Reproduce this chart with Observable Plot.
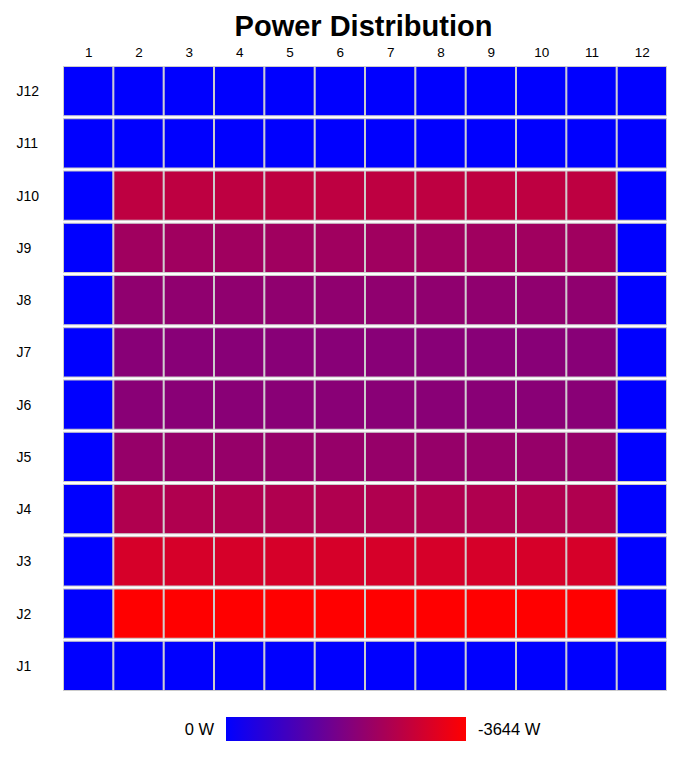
<!DOCTYPE html>
<html>
<head>
<meta charset="utf-8">
<script src="https://cdn.jsdelivr.net/npm/d3@7"></script>
<script src="https://cdn.jsdelivr.net/npm/@observablehq/plot@0.6"></script>
<style>
  body { margin: 0; background: #fff; font-family: "Liberation Sans", Arial, sans-serif; }
  #wrap { width: 691px; position: relative; }
  #title { height: 36px; padding-top: 8px; padding-left: 36px; font-size: 29px; font-weight: bold; line-height: 36px; text-align: center; color: #000; }
  #legend { position: relative; height: 24px; margin-top: 20px; font-size: 16.5px; line-height: 24px; color: #000; }
  #legend .lo { position: absolute; right: 477px; top: 0; }
  #legend .bar { position: absolute; left: 226px; width: 240px; top: 0; height: 24px; }
  #legend .hi { position: absolute; left: 478px; top: 0; }
</style>
</head>
<body>
<div id="wrap">
  <div id="title">Power Distribution</div>
  <div id="chart"></div>
  <div id="legend"><span class="lo"></span><div class="bar"></div><span class="hi"></span></div>
</div>
<script>
const rowLabels = ["J1","J2","J3","J4","J5","J6","J7","J8","J9","J10","J11","J12"];
const colLabels = [1,2,3,4,5,6,7,8,9,10,11,12];
const minPower = -3644;
const maxPower = 0;
const unit = "W";

// Power (W) per row, columns 1..12
const rowJ1  = [0, 0, 0, 0, 0, 0, 0, 0, 0, 0, 0, 0];
const rowJ2  = [0, -3644, -3644, -3644, -3644, -3644, -3644, -3644, -3644, -3644, -3644, 0];
const rowJ3  = [0, -3058, -3058, -3058, -3058, -3058, -3058, -3058, -3058, -3058, -3058, 0];
const rowJ4  = [0, -2515, -2515, -2515, -2515, -2515, -2515, -2515, -2515, -2515, -2515, 0];
const rowJ5  = [0, -2144, -2144, -2144, -2144, -2144, -2144, -2144, -2144, -2144, -2144, 0];
const rowJ6  = [0, -1960, -1960, -1960, -1960, -1960, -1960, -1960, -1960, -1960, -1960, 0];
const rowJ7  = [0, -1943, -1943, -1943, -1943, -1943, -1943, -1943, -1943, -1943, -1943, 0];
const rowJ8  = [0, -2058, -2058, -2058, -2058, -2058, -2058, -2058, -2058, -2058, -2058, 0];
const rowJ9  = [0, -2287, -2287, -2287, -2287, -2287, -2287, -2287, -2287, -2287, -2287, 0];
const rowJ10 = [0, -2715, -2715, -2715, -2715, -2715, -2715, -2715, -2715, -2715, -2715, 0];
const rowJ11 = [0, 0, 0, 0, 0, 0, 0, 0, 0, 0, 0, 0];
const rowJ12 = [0, 0, 0, 0, 0, 0, 0, 0, 0, 0, 0, 0];

const rowValues = [rowJ1, rowJ2, rowJ3, rowJ4, rowJ5, rowJ6, rowJ7, rowJ8, rowJ9, rowJ10, rowJ11, rowJ12];

const data = [];
rowLabels.forEach((r, i) => {
  rowValues[i].forEach((v, j) => data.push({row: r, col: colLabels[j], value: v}));
});

const colorOpts = {type: "linear", domain: [maxPower, minPower], range: ["#0000ff", "#ff0000"], interpolate: "rgb"};

const chart = Plot.plot({
  width: 691,
  height: 653,
  marginTop: 21,
  marginBottom: 5,
  marginLeft: 63,
  marginRight: 24,
  style: {fontFamily: "'Liberation Sans', Arial, sans-serif", color: "#000", background: "#fff"},
  x: {type: "band", domain: colLabels, padding: 0, round: false, axis: null},
  y: {type: "band", domain: rowLabels.slice().reverse(), padding: 0, round: false, axis: null},
  color: colorOpts,
  marks: [
    Plot.cell(data, {
      x: "col", y: "row", fill: "value",
      stroke: "#cccccc", strokeWidth: 1,
      insetTop: 1.5, insetBottom: 1.5, insetLeft: 0.5, insetRight: 0.5
    }),
    Plot.axisX({anchor: "top", tickSize: 0, tickPadding: 9, fontSize: 13.5, label: null}),
    Plot.axisY({anchor: "left", tickSize: 0, tickPadding: 47, textAnchor: "start", fontSize: 14, label: null})
  ]
});
document.getElementById("chart").appendChild(chart);

// legend built from the same color scale
const sc = Plot.scale({color: colorOpts});
const stops = d3.range(0, 11).map(k => {
  const t = k / 10;
  const v = maxPower + (minPower - maxPower) * t;
  return `${sc.apply(v)} ${t * 100}%`;
});
document.querySelector("#legend .bar").style.background = `linear-gradient(to right, ${stops.join(", ")})`;
document.querySelector("#legend .lo").textContent = `${maxPower} ${unit}`;
document.querySelector("#legend .hi").textContent = `${minPower} ${unit}`;
</script>
</body>
</html>
